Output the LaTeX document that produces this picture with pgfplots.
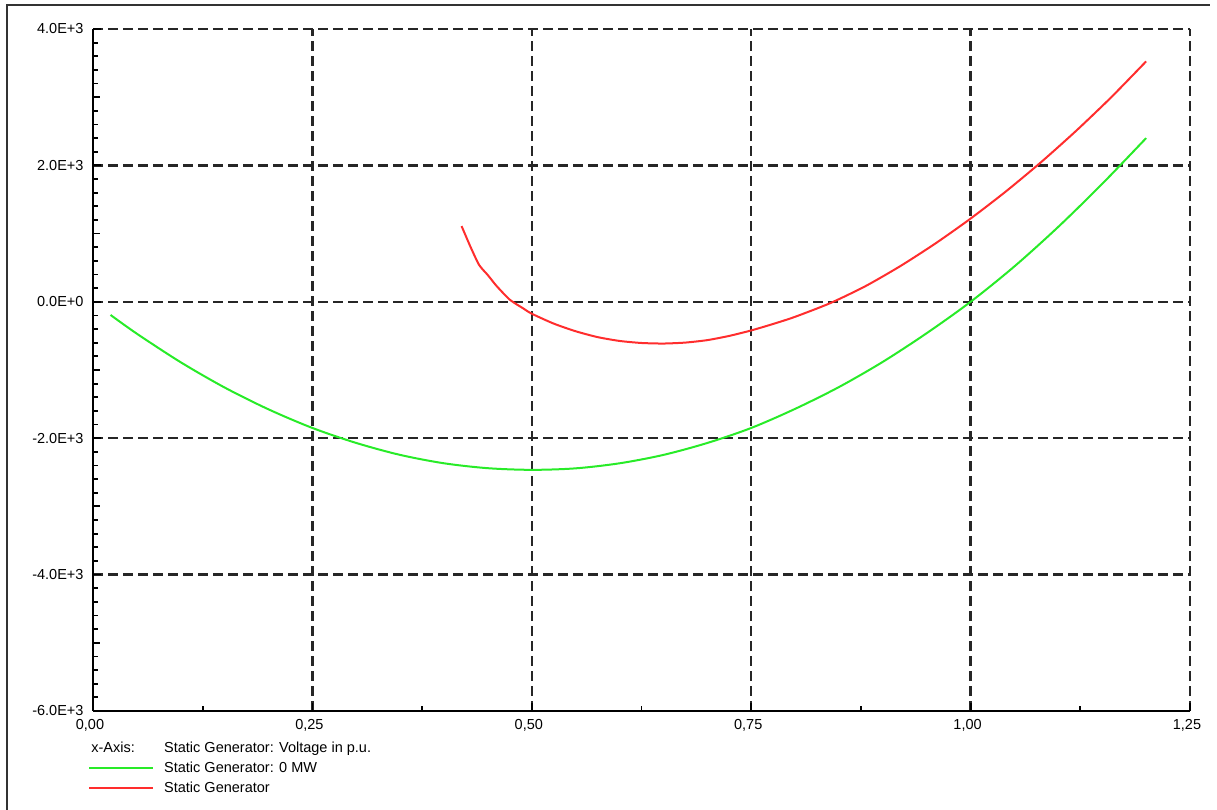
\documentclass[border=0pt]{standalone}
\usepackage{fontspec}
\setmainfont{Liberation Sans}
\usepackage{pgfplots}
\pgfplotsset{compat=1.18}
\definecolor{cgreen}{RGB}{40,235,40}
\definecolor{cred}{RGB}{255,45,45}
\begin{document}
\begin{tikzpicture}[x=1pt,y=1pt]
\useasboundingbox (0,0) rectangle (1217,810);
\draw[line width=2pt, black!80] (7,0) -- (7,805) -- (1210,805);
\begin{axis}[at={(93pt,99pt)}, anchor=south west, scale only axis,
  width=1097pt, height=682pt,
  xmin=0, xmax=1.25, ymin=-6000, ymax=4000,
  axis x line*=bottom, axis y line*=left,
  axis line style={line width=2.8pt, black},
  xtick={0,0.25,0.5,0.75,1,1.25},
  xticklabels={{0,00},{0,25},{0,50},{0,75},{1,00},{1,25}},
  ytick={-6000,-4000,-2000,0,2000,4000},
  yticklabels={-6.0E+3,-4.0E+3,-2.0E+3,0.0E+0,2.0E+3,4.0E+3},
  minor x tick num=1, minor y tick num=9,
  extra y ticks={-5000,-3000,-1000,1000,3000},
  extra y tick labels={},
  extra tick style={grid=none, major tick length=7pt},
  tick align=inside,
  major tick length=8pt, minor tick length=4.5pt,
  tick style={line width=1.8pt, black},
  grid=major,
  major grid style={dash pattern=on 10pt off 5pt, line width=2.4pt, black!85},
  tick label style={font=\fontsize{14.5}{16}\selectfont},
  xticklabel style={yshift=-5pt, xshift=-3pt},
  yticklabel style={xshift=-6pt},
  legend image code/.code={\draw[#1] (0pt,0pt) -- (64pt,0pt);},
  legend cell align=left,
  legend style={at={(axis description cs:0,0)}, anchor=north west,
    xshift=-5pt, yshift=-29pt, draw=none, fill=none, inner sep=0pt,
    font=\fontsize{14.5}{16}\selectfont,
    nodes={inner sep=1pt, text height=11pt, text depth=3pt},
    row sep=4pt, column sep=9pt},
]
\addlegendimage{legend image code/.code={\node[anchor=west, inner sep=0pt, text height=11pt, text depth=3pt] at (2pt,0pt) {x-Axis:};}}
\addlegendentry{Static Generator: Voltage in p.u.}

\addplot[cgreen, line width=2pt, smooth] coordinates {
(0.02,-193) (0.05,-468) (0.10,-887) (0.15,-1257) (0.20,-1577) (0.25,-1850)
(0.30,-2070) (0.35,-2245) (0.40,-2368) (0.45,-2440) (0.50,-2464) (0.55,-2442)
(0.60,-2368) (0.65,-2245) (0.70,-2070) (0.75,-1850) (0.80,-1570) (0.85,-1250)
(0.90,-880) (0.95,-460) (1.00,0) (1.05,520) (1.10,1100) (1.15,1730) (1.20,2400)
};
\addlegendentry{Static Generator: 0 MW}

\addplot[cred, line width=2pt, smooth, tension=0.4] coordinates {
(0.42,1110) (0.43,810) (0.44,540) (0.45,390) (0.46,230) (0.475,30) (0.49,-95)
(0.50,-175) (0.525,-320) (0.55,-432) (0.575,-518) (0.60,-574) (0.625,-604)
(0.65,-612) (0.675,-598) (0.70,-562) (0.725,-500) (0.75,-420) (0.775,-325)
(0.80,-220) (0.84,-20) (0.88,228) (0.92,524) (0.96,856) (1.00,1220) (1.04,1616)
(1.08,2044) (1.12,2504) (1.16,2996) (1.20,3525)
};
\addlegendentry{Static Generator}
\end{axis}
\end{tikzpicture}
\end{document}
